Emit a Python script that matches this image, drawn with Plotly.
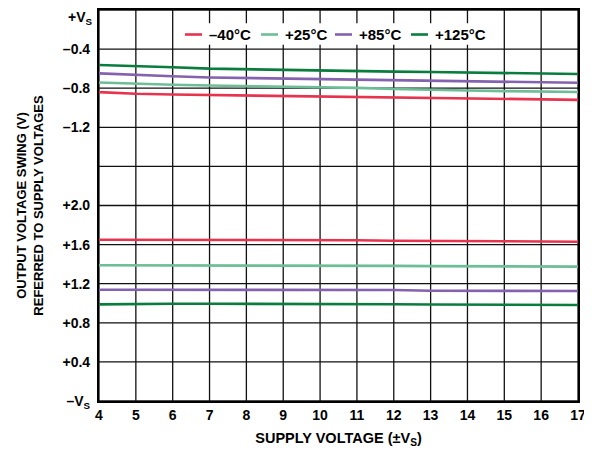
import plotly.graph_objects as go

supply_v = [4, 5, 6, 7, 8, 9, 10, 11, 12, 13, 14, 15, 16, 17]

# Upper swing, referred to +Vs (V)
hi_m40 = [-0.84, -0.857, -0.865, -0.87, -0.877, -0.878, -0.88, -0.886, -0.893, -0.898, -0.905, -0.912, -0.916, -0.919]
hi_25 = [-0.742, -0.755, -0.765, -0.773, -0.778, -0.783, -0.787, -0.797, -0.808, -0.818, -0.824, -0.83, -0.835, -0.839]
hi_85 = [-0.648, -0.665, -0.678, -0.69, -0.696, -0.701, -0.707, -0.714, -0.721, -0.728, -0.733, -0.738, -0.742, -0.745]
hi_125 = [-0.562, -0.572, -0.585, -0.6, -0.607, -0.613, -0.62, -0.625, -0.63, -0.634, -0.64, -0.646, -0.651, -0.655]

# Lower swing, referred to -Vs (V)
lo_m40 = [1.65, 1.65, 1.65, 1.65, 1.65, 1.65, 1.65, 1.645, 1.64, 1.64, 1.635, 1.635, 1.632, 1.629]
lo_25 = [1.389, 1.389, 1.389, 1.389, 1.389, 1.389, 1.389, 1.385, 1.382, 1.38, 1.38, 1.38, 1.377, 1.375]
lo_85 = [1.138, 1.138, 1.138, 1.138, 1.138, 1.138, 1.135, 1.135, 1.135, 1.128, 1.127, 1.126, 1.125, 1.125]
lo_125 = [0.989, 0.995, 0.995, 0.995, 0.995, 0.995, 0.995, 0.99, 0.99, 0.987, 0.985, 0.984, 0.982, 0.982]

series_names = ["\u201340\u00b0C", "+25\u00b0C", "+85\u00b0C", "+125\u00b0C"]
series_colors = ["#e8334f", "#6dbe96", "#8462b0", "#0a7d3e"]

y_tick_pos = [0, 1, 2, 3, 4, 5, 6, 7, 8, 9, 10]
y_tick_text = ["\u2013V<sub>S</sub>", "+0.4", "+0.8", "+1.2", "+1.6", "+2.0", "",
               "\u20131.2", "\u20130.8", "\u20130.4", ""]
top_tick_text = "+V<sub>S</sub>"   # top tick label, drawn just below the page edge
x_tick_vals = list(range(4, 18))

STEP = 0.4
TOP = 10


def hi_pos(vals):
    return [TOP + v / STEP for v in vals]


def lo_pos(vals):
    return [v / STEP for v in vals]


font = "Liberation Sans, Arial, Helvetica, sans-serif"
fig = go.Figure()

his = [hi_m40, hi_25, hi_85, hi_125]
los = [lo_m40, lo_25, lo_85, lo_125]
for name, color, hi, lo in zip(series_names, series_colors, his, los):
    fig.add_trace(go.Scatter(x=supply_v, y=hi_pos(hi), mode="lines", name=name,
                             line=dict(color=color, width=2.6), showlegend=False))
    fig.add_trace(go.Scatter(x=supply_v, y=lo_pos(lo), mode="lines", name=name,
                             line=dict(color=color, width=2.6), showlegend=False))

# grid lines
for xv in x_tick_vals:
    fig.add_shape(type="line", xref="x", yref="paper", x0=xv, x1=xv, y0=0, y1=1,
                  line=dict(color="#111111", width=1.3), layer="below")
for yv in y_tick_pos:
    fig.add_shape(type="line", xref="paper", yref="y", x0=0, x1=1, y0=yv, y1=yv,
                  line=dict(color="#111111", width=1.3), layer="below")

# ---- legend drawn inside the plot (white box, short line keys) ----
PLOT_L, PLOT_W = 99, 479   # page px of plot area (for layout placement only)
PLOT_B, PLOT_H = 393, 383


def px_x(p):
    return (p - PLOT_L) / PLOT_W


def px_y(p):
    return (PLOT_B - p) / PLOT_H


leg_text_x = [207, 283, 357, 433]
leg_y = 34
fig.add_shape(type="rect", xref="paper", yref="paper", x0=px_x(179), x1=px_x(492),
              y0=px_y(44), y1=px_y(23), fillcolor="white", line=dict(width=0), layer="above")
for name, color, tx in zip(series_names, series_colors, leg_text_x):
    fig.add_shape(type="line", xref="paper", yref="paper", x0=px_x(tx - 22), x1=px_x(tx - 5),
                  y0=px_y(leg_y), y1=px_y(leg_y), line=dict(color=color, width=2.6),
                  layer="above")
    fig.add_annotation(text=name, xref="paper", yref="paper", x=px_x(tx), y=px_y(leg_y),
                       xanchor="left", yanchor="middle", showarrow=False,
                       font=dict(family=font, size=15, color="black", weight="bold"))

fig.add_annotation(text=top_tick_text, xref="paper", yref="paper", x=px_x(95), y=px_y(18),
                   xanchor="right", yanchor="middle", showarrow=False,
                   font=dict(family=font, size=14, color="black", weight="bold"))

# page body has an 8px margin: figure is drawn from (8, 8)
fig.update_layout(
    width=584, height=444,
    margin=dict(l=91, r=14, t=2, b=51),
    paper_bgcolor="white", plot_bgcolor="white",
    font=dict(family=font, size=14, color="black"),
    showlegend=False,
    xaxis=dict(range=[4, 17], tickvals=x_tick_vals, showgrid=False,
               showline=True, linecolor="black", linewidth=2.2, mirror=True,
               ticks="", zeroline=False, automargin=False,
               tickfont=dict(family=font, size=14, weight="bold"),
               title=dict(text="SUPPLY VOLTAGE (\u00b1V<sub>S</sub>)",
                          font=dict(family=font, size=14.5, weight="bold"), standoff=11)),
    yaxis=dict(range=[0, 10], tickvals=y_tick_pos, ticktext=y_tick_text, showgrid=False,
               showline=True, linecolor="black", ticklabelstandoff=4,
               ticklabeloverflow="allow",
               linewidth=2.2, mirror=True, ticks="", zeroline=False, automargin=False,
               tickfont=dict(family=font, size=14, weight="bold"),
               title=dict(text="OUTPUT VOLTAGE SWING (V)<br>REFERRED TO SUPPLY VOLTAGES",
                          font=dict(family=font, size=13, weight="bold"), standoff=16)),
)

fig.write_html("out.html")
